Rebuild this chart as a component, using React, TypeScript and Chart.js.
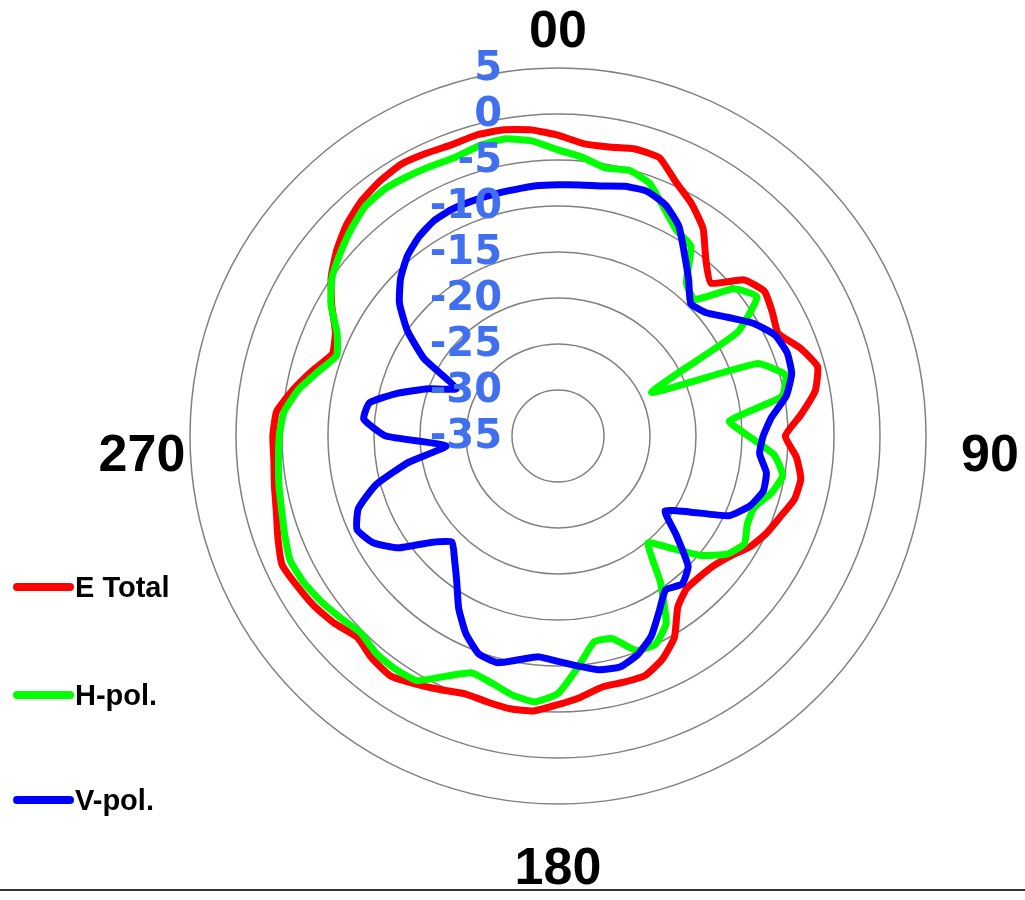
import React, { useEffect, useRef } from 'react';
import { Chart, registerables } from 'chart.js';

Chart.register(...registerables);

// Azimuth categories (degrees, clockwise from top)
const ANGLES = [
  '0', '5', '10', '15', '20', '25', '30', '35', '40', '45', '50', '55',
  '60', '65', '70', '75', '80', '85', '90', '95', '100', '105', '110', '115',
  '120', '125', '130', '135', '140', '145', '150', '155', '160', '165', '170', '175',
  '180', '185', '190', '195', '200', '205', '210', '215', '220', '225', '230', '235',
  '240', '245', '250', '255', '260', '265', '270', '275', '280', '285', '290', '295',
  '300', '305', '310', '315', '320', '325', '330', '335', '340', '345', '350', '355',
];

const E_TOTAL = [
  -2.3, -3.1, -3.1, -2.7, -2.8, -4.6, -5.9, -7.5, -10.0, -11.5, -8.6, -7.6,
  -8.1, -8.6, -7.0, -5.8, -6.6, -8.5, -10.3, -9.0, -8.2, -8.4, -9.3, -10.0,
  -10.9, -12.2, -13.0, -13.3, -13.3, -12.3, -9.7, -8.2, -7.3, -7.3, -7.3, -6.5,
  -5.8, -5.0, -4.9, -5.1, -5.2, -4.6, -3.9, -3.2, -3.5, -4.1, -3.3, -2.7,
  -2.3, -1.9, -2.6, -3.3, -3.7, -4.0, -4.0, -4.3, -5.8, -7.4, -8.9, -8.3,
  -6.6, -4.9, -3.6, -2.5, -1.7, -1.2, -0.9, -1.1, -1.3, -1.1, -1.2, -1.6,
];

const H_POL = [
  -3.9, -4.6, -5.4, -5.1, -5.8, -7.7, -9.2, -9.8, -13.3, -14.0, -10.1, -8.6,
  -12.5, -23.8, -12.0, -9.4, -10.3, -16.3, -14.3, -11.4, -10.2, -11.0, -12.3, -12.3,
  -11.6, -12.6, -14.8, -17.8, -19.8, -15.6, -11.5, -10.0, -10.2, -12.2, -12.3, -9.8,
  -7.0, -6.0, -6.4, -7.2, -7.6, -6.2, -4.3, -4.1, -4.2, -4.7, -4.2, -3.6,
  -3.1, -2.9, -3.4, -3.9, -4.2, -4.5, -4.7, -5.1, -6.3, -8.0, -9.4, -8.5,
  -6.5, -5.0, -4.1, -3.2, -2.4, -2.2, -2.4, -2.6, -2.7, -2.3, -2.2, -2.8,
];

const V_POL = [
  -7.7, -7.6, -7.4, -6.9, -6.7, -7.3, -8.7, -11.0, -12.9, -14.6, -14.1, -12.5,
  -10.5, -9.0, -8.5, -8.7, -9.8, -11.7, -12.7, -13.0, -12.0, -11.9, -12.8, -14.5,
  -18.5, -20.8, -18.2, -15.0, -14.0, -14.6, -13.0, -11.0, -9.7, -9.0, -9.2, -9.9,
  -10.5, -10.9, -10.3, -9.5, -9.8, -11.3, -13.4, -15.8, -17.5, -18.7, -17.0, -13.8,
  -11.8, -10.9, -11.9, -14.5, -18.5, -22.8, -16.3, -13.8, -14.2, -17.0, -20.0, -22.8,
  -18.2, -15.0, -12.5, -10.8, -9.5, -8.6, -8.0, -7.8, -7.8, -7.8, -7.8, -7.7,
];

const TICK_VALUES = [5, 0, -5, -10, -15, -20, -25, -30, -35];
const TICK_LABELS = ['5', '0', '-5', '-10', '-15', '-20', '-25', '-30', '-35'];

const COMPASS_LABELS = ['00', '90', '180', '270'];
const COMPASS_ANGLES = [0, 90, 180, 270];

const SERIES_NAMES = ['E Total', 'H-pol.', 'V-pol.'];
const SERIES_COLORS = ['#ff0000', '#00ff00', '#0000ff'];

// layout tuning for overlay text (not data)
const COMPASS_LAYOUT = [
  { dist: 403, dy: 0 },
  { dist: 432, dy: 21 },
  { dist: 434, dy: 0 },
  { dist: 416, dy: 21 },
];
const LEGEND_ROWS_Y = [587, 695, 800];

const overlayPlugin = {
  id: 'overlay',
  afterDraw(chart: any) {
    const ctx = chart.ctx as CanvasRenderingContext2D;
    const scale = chart.scales.r;
    ctx.save();

    // radial tick labels
    ctx.font = 'bold 40px "DejaVu Sans"';
    ctx.fillStyle = '#4070f0';
    ctx.textAlign = 'right';
    ctx.textBaseline = 'middle';
    TICK_VALUES.forEach((v, i) => {
      const d = scale.getDistanceFromCenterForValue(v);
      ctx.fillText(TICK_LABELS[i], scale.xCenter - 56, scale.yCenter - d + 2);
    });

    // compass labels
    ctx.font = 'bold 52px "Liberation Sans"';
    ctx.fillStyle = '#000000';
    ctx.textAlign = 'center';
    ctx.textBaseline = 'middle';
    COMPASS_LABELS.forEach((lab, i) => {
      const idx = ANGLES.indexOf(String(COMPASS_ANGLES[i]));
      const p = scale.getPointPosition(idx, COMPASS_LAYOUT[i].dist);
      ctx.fillText(lab, p.x, p.y + COMPASS_LAYOUT[i].dy);
    });

    // legend
    ctx.font = 'bold 29px "Liberation Sans"';
    ctx.textAlign = 'left';
    ctx.textBaseline = 'middle';
    SERIES_NAMES.forEach((name, i) => {
      const y = LEGEND_ROWS_Y[i];
      ctx.strokeStyle = SERIES_COLORS[i];
      ctx.lineWidth = 8;
      ctx.lineCap = 'round';
      ctx.beginPath();
      ctx.moveTo(17, y);
      ctx.lineTo(70, y);
      ctx.stroke();
      ctx.fillStyle = '#000000';
      ctx.fillText(name, 75, y + 2);
    });

    // bottom rule
    ctx.strokeStyle = '#333333';
    ctx.lineWidth = 2;
    ctx.lineCap = 'butt';
    ctx.beginPath();
    ctx.moveTo(0, 890);
    ctx.lineTo(chart.width, 890);
    ctx.stroke();

    ctx.restore();
  },
};

export default function App() {
  const ref = useRef<HTMLCanvasElement | null>(null);

  useEffect(() => {
    if (!ref.current) return;
    const seriesData = [E_TOTAL, H_POL, V_POL];
    const chart = new Chart(ref.current, {
      type: 'radar',
      data: {
        labels: ANGLES,
        datasets: SERIES_NAMES.map((name, i) => ({
          label: name,
          data: seriesData[i],
          borderColor: SERIES_COLORS[i],
          backgroundColor: SERIES_COLORS[i],
          borderWidth: 7,
          pointRadius: 0,
          pointHoverRadius: 0,
          fill: false,
          tension: 0.15,
          borderJoinStyle: 'round' as const,
          order: 2 - i,
        })),
      },
      options: {
        responsive: false,
        maintainAspectRatio: false,
        animation: false,
        layout: { padding: { left: 190, right: 99, top: 68, bottom: 96 } },
        plugins: {
          legend: { display: false },
          tooltip: { enabled: false },
        },
        scales: {
          r: {
            min: -35,
            max: 5,
            ticks: { stepSize: 5, display: false },
            grid: { color: '#808080', lineWidth: 1.5, circular: true },
            angleLines: { display: false },
            pointLabels: { display: false },
          },
        },
      },
      plugins: [overlayPlugin],
    });
    return () => chart.destroy();
  }, []);

  return (
    <div style={{ position: 'absolute', left: 0, top: 0, width: 1025, height: 900, background: '#fff' }}>
      <canvas ref={ref} width={1025} height={900} style={{ display: 'block' }} />
    </div>
  );
}
